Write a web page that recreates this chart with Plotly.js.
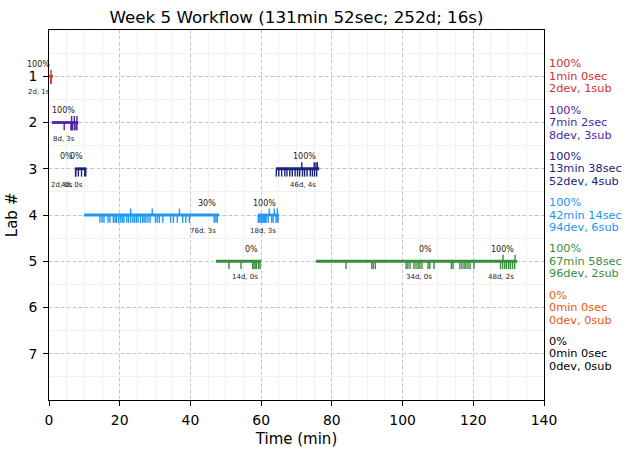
<!DOCTYPE html>
<html>
<head>
<meta charset="utf-8">
<script src="https://cdn.plot.ly/plotly-3.0.1.min.js"></script>
<style>html,body{margin:0;padding:0;background:#fff;}#chart{width:630px;height:453px;}</style>
</head>
<body>
<div id="chart"></div>
<script>
// ---- data ----
const labs = [1, 2, 3, 4, 5, 6, 7];
const labColors = ['#d32f2f', '#4f24a3', '#1a237e', '#2196f3', '#388e3c', '#e8590c', '#000000'];
const labPct = ['100%', '100%', '100%', '100%', '100%', '0%', '0%'];
const labTime = ['1min 0sec', '7min 2sec', '13min 38sec', '42min 14sec', '67min 58sec', '0min 0sec', '0min 0sec'];
const labCounts = ['2dev, 1sub', '8dev, 3sub', '52dev, 4sub', '94dev, 6sub', '96dev, 2sub', '0dev, 0sub', '0dev, 0sub'];

// sessions (segments) per lab
const segLab   = [1, 2, 3, 3, 3, 4, 4, 5, 5, 5];
const segStart = [0.1, 0.85, 7.35, 7.65, 64.2, 9.9, 59.1, 47.2, 75.5, 109.2];
const segEnd   = [1.1, 8.3, 7.65, 10.55, 76.4, 48.1, 65.0, 60.0, 109.2, 132.4];
const segPct   = ['100%', '100%', '0%', '0%', '100%', '30%', '100%', '0%', '0%', '100%'];
const segCount = ['2d, 1s', '8d, 3s', '2d, 0s', '4d, 0s', '46d, 4s', '76d, 3s', '18d, 3s', '14d, 0s', '34d, 0s', '48d, 2s'];

// dev events (ticks down) and submissions (ticks up), per segment
const segDevs = [
  [0.55, 0.6],
  [4.3, 6.2, 6.4, 6.6, 7.15, 7.3, 7.7, 7.9],
  [7.5, 7.55],
  [8.3, 9.2, 10.1, 10.4],
  [64.3, 65.0, 65.8, 66.7, 67.3, 68.1, 68.8, 69.6, 70.3, 70.9, 71.7, 72.3, 73.0, 73.9, 74.5, 75.1, 75.7],
  [14.4, 15.0, 15.55, 16.7, 17.25, 18.2, 18.7, 19.1, 19.7, 20.3, 20.8, 21.2, 22.0, 22.5, 23.1, 23.7, 24.2, 24.7, 25.2, 25.9, 26.5, 26.9, 27.4, 28.0, 28.6, 30.1, 30.6, 31.2, 32.2, 34.4, 35.2, 36.3, 37.8, 38.7, 39.7, 46.7, 47.2, 47.6],
  [59.2, 59.4, 59.7, 60.0, 60.3, 60.6, 60.9, 61.2, 61.4, 62.0, 63.0, 63.4, 64.2, 64.5, 64.8],
  [50.9, 54.3, 57.6, 58.0, 58.3, 58.7, 59.3, 59.7],
  [84.0, 91.3, 91.7, 92.3, 101.0, 101.5, 102.1, 103.2, 103.8, 104.4, 104.9, 105.5, 107.2, 107.7, 108.9],
  [113.8, 114.3, 116.2, 116.8, 117.4, 117.9, 118.5, 119.1, 120.2, 127.7, 128.3, 128.9, 129.4, 130.0, 130.5, 131.1, 131.7]
];
const segSubs = [
  [0.57],
  [6.4, 7.15, 7.9],
  [],
  [],
  [71.5, 75.0, 75.5, 75.9],
  [23.1, 29.2, 36.9],
  [62.3, 63.7, 64.6],
  [],
  [],
  [128.4, 131.8]
];

const xTicks = [0, 20, 40, 60, 80, 100, 120, 140];

// ---- build traces ----
const DOWN = 0.17, UP = 0.14;
const traces = [];
labs.forEach((lab, li) => {
  const color = labColors[li];
  const lx = [], ly = [], dx = [], dy = [], ux = [], uy = [];
  segLab.forEach((sl, si) => {
    if (sl !== lab) return;
    lx.push(segStart[si], segEnd[si], null); ly.push(lab, lab, null);
    segDevs[si].forEach(v => { dx.push(v, v, null); dy.push(lab, lab + DOWN, null); });
    segSubs[si].forEach(v => { ux.push(v, v, null); uy.push(lab, lab - UP, null); });
  });
  if (lx.length) {
    traces.push({x: dx, y: dy, mode: 'lines', line: {color: color, width: 1.4}, hoverinfo: 'skip', showlegend: false});
    traces.push({x: ux, y: uy, mode: 'lines', line: {color: color, width: 1.4}, hoverinfo: 'skip', showlegend: false});
    traces.push({x: lx, y: ly, mode: 'lines', line: {color: color, width: 2.8}, hoverinfo: 'skip', showlegend: false});
  }
});

const annotations = [];
segLab.forEach((sl, si) => {
  annotations.push({x: segEnd[si], y: sl, xref: 'x', yref: 'y', text: segPct[si], showarrow: false,
    xanchor: 'right', yanchor: 'middle', xshift: -1, yshift: 12, font: {size: 8, color: '#222'}});
  annotations.push({x: segEnd[si], y: sl, xref: 'x', yref: 'y', text: segCount[si], showarrow: false,
    xanchor: 'right', yanchor: 'middle', xshift: -1, yshift: -16, font: {size: 7, color: '#222'}});
});
labs.forEach((lab, li) => {
  const rows = [labPct[li], labTime[li], labCounts[li]];
  const shifts = [12.5, 0, -12.5];
  rows.forEach((t, ri) => {
    annotations.push({x: 1, y: lab, xref: 'paper', yref: 'y', text: t, showarrow: false,
      xanchor: 'left', yanchor: 'middle', xshift: 3, yshift: shifts[ri],
      font: {size: 11.3, color: labColors[li]}});
  });
});

const layout = {
  width: 630, height: 453,
  margin: {l: 49, r: 86, t: 30, b: 53},
  paper_bgcolor: '#fff', plot_bgcolor: '#fff',
  font: {family: 'DejaVu Sans, sans-serif', color: '#000'},
  title: {text: 'Week 5 Workflow (131min 52sec; 252d; 16s)', font: {size: 16.7, color: '#000'},
          x: 0.5, xref: 'paper', xanchor: 'center', y: 1 - 17 / 453, yref: 'container', yanchor: 'middle'},
  xaxis: {range: [0, 140], tickvals: xTicks, ticktext: xTicks.map(String), ticks: 'outside', ticklen: 5,
          ticklabelstandoff: 2,
          tickcolor: '#000', tickfont: {size: 13.9}, showline: true, mirror: true, linecolor: '#000', linewidth: 1,
          showgrid: true, gridcolor: '#c4c4c4', griddash: 'dot', gridwidth: 1, zeroline: false,
          minor: {dtick: 5, tick0: 0, showgrid: true, gridcolor: '#f1f1f1', griddash: 'solid', gridwidth: 1},
          title: {text: 'Time (min)', font: {size: 15}, standoff: 6}},
  yaxis: {range: [8, 0], tickvals: labs, ticktext: labs.map(String), ticks: 'outside', ticklen: 5,
          ticklabelstandoff: 3,
          tickcolor: '#000', tickfont: {size: 13.9}, showline: true, mirror: true, linecolor: '#000', linewidth: 1,
          showgrid: true, gridcolor: '#c4c4c4', griddash: 'dot', gridwidth: 1, zeroline: false,
          minor: {dtick: 0.5, tick0: 0, showgrid: true, gridcolor: '#f1f1f1', griddash: 'solid', gridwidth: 1},
          title: {text: 'Lab #', font: {size: 15}, standoff: 7}},
  annotations: annotations
};

Plotly.newPlot('chart', traces, layout, {staticPlot: true, displayModeBar: false});
</script>
</body>
</html>
